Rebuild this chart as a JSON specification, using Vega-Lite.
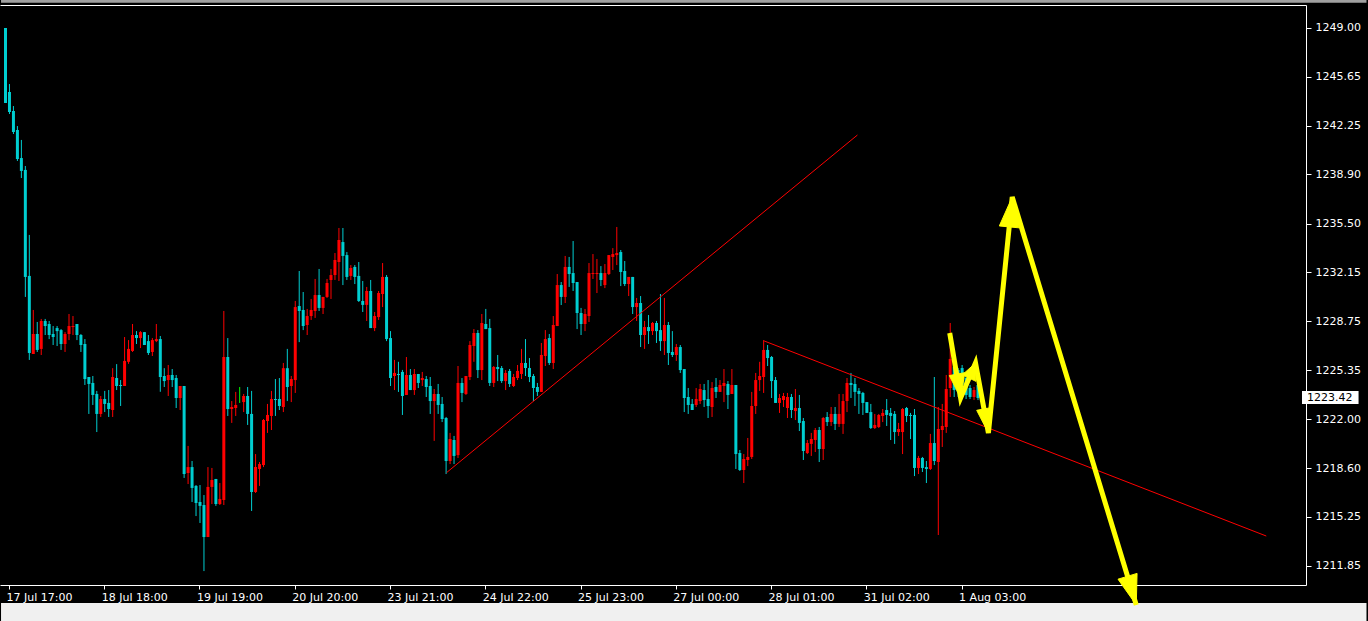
{
  "$schema": "https://vega.github.io/schema/vega-lite/v6.json",
  "width": 1306,
  "height": 580,
  "autosize": {"type": "none"},
  "padding": {"left": 0, "top": 5, "right": 62, "bottom": 36},
  "background": "#000000",
  "config": {
    "view": {"stroke": null},
    "axis": {"labelFont": "DejaVu Sans", "labelFontSize": 11, "labelColor": "#ffffff", "tickColor": "#ffffff", "domainColor": "#ffffff", "grid": false, "title": null}
  },
  "datasets": {
    "candles": [
{"k":-1,"o":1249.00,"h":1249.00,"l":1243.82,"c":1243.82},
{"k":0,"o":1244.58,"h":1245.13,"l":1243.06,"c":1243.20},
{"k":1,"o":1243.27,"h":1243.61,"l":1241.68,"c":1241.82},
{"k":2,"o":1241.96,"h":1242.23,"l":1239.82,"c":1239.95},
{"k":3,"o":1240.02,"h":1241.27,"l":1238.64,"c":1239.13},
{"k":4,"o":1239.20,"h":1239.47,"l":1230.43,"c":1231.81},
{"k":5,"o":1231.88,"h":1234.71,"l":1226.08,"c":1226.56},
{"k":6,"o":1226.49,"h":1229.53,"l":1226.49,"c":1227.87},
{"k":7,"o":1227.87,"h":1228.70,"l":1226.63,"c":1226.77},
{"k":8,"o":1226.84,"h":1228.91,"l":1226.42,"c":1228.77},
{"k":9,"o":1228.77,"h":1228.91,"l":1227.80,"c":1228.42},
{"k":10,"o":1228.56,"h":1228.77,"l":1227.52,"c":1227.80},
{"k":11,"o":1227.87,"h":1228.42,"l":1227.11,"c":1227.66},
{"k":12,"o":1228.28,"h":1228.42,"l":1227.04,"c":1228.07},
{"k":13,"o":1228.14,"h":1228.21,"l":1226.77,"c":1227.18},
{"k":14,"o":1227.18,"h":1228.00,"l":1226.63,"c":1227.87},
{"k":15,"o":1227.87,"h":1229.25,"l":1227.45,"c":1228.42},
{"k":16,"o":1228.35,"h":1229.11,"l":1227.80,"c":1228.42},
{"k":17,"o":1228.56,"h":1228.56,"l":1227.45,"c":1227.80},
{"k":18,"o":1227.80,"h":1227.87,"l":1226.63,"c":1227.11},
{"k":19,"o":1227.18,"h":1227.52,"l":1224.35,"c":1224.76},
{"k":20,"o":1224.90,"h":1224.90,"l":1222.35,"c":1224.42},
{"k":21,"o":1224.49,"h":1224.97,"l":1222.97,"c":1223.66},
{"k":22,"o":1223.73,"h":1223.94,"l":1221.10,"c":1222.35},
{"k":23,"o":1222.35,"h":1223.59,"l":1222.14,"c":1223.38},
{"k":24,"o":1223.38,"h":1223.94,"l":1222.48,"c":1223.04},
{"k":25,"o":1223.11,"h":1224.00,"l":1222.14,"c":1222.69},
{"k":26,"o":1222.62,"h":1225.51,"l":1222.14,"c":1224.90},
{"k":27,"o":1224.83,"h":1225.79,"l":1224.00,"c":1224.28},
{"k":28,"o":1224.35,"h":1224.69,"l":1222.90,"c":1224.28},
{"k":29,"o":1224.28,"h":1227.66,"l":1224.28,"c":1226.01},
{"k":30,"o":1225.95,"h":1227.45,"l":1225.81,"c":1226.84},
{"k":31,"o":1226.70,"h":1228.56,"l":1226.63,"c":1227.80},
{"k":32,"o":1227.80,"h":1228.07,"l":1227.18,"c":1227.59},
{"k":33,"o":1227.59,"h":1228.07,"l":1226.90,"c":1228.00},
{"k":34,"o":1228.00,"h":1228.00,"l":1227.11,"c":1227.11},
{"k":35,"o":1227.38,"h":1227.80,"l":1226.42,"c":1226.56},
{"k":36,"o":1226.63,"h":1227.59,"l":1226.35,"c":1227.45},
{"k":37,"o":1227.38,"h":1228.56,"l":1227.31,"c":1227.52},
{"k":38,"o":1227.52,"h":1227.73,"l":1223.88,"c":1224.90},
{"k":39,"o":1224.97,"h":1225.51,"l":1224.21,"c":1224.62},
{"k":40,"o":1224.69,"h":1225.73,"l":1223.59,"c":1225.04},
{"k":41,"o":1225.04,"h":1225.45,"l":1224.21,"c":1224.69},
{"k":42,"o":1224.83,"h":1225.04,"l":1222.76,"c":1223.45},
{"k":43,"o":1223.45,"h":1224.28,"l":1222.62,"c":1224.28},
{"k":44,"o":1224.28,"h":1224.28,"l":1217.93,"c":1218.20},
{"k":45,"o":1218.27,"h":1220.14,"l":1217.51,"c":1218.68},
{"k":46,"o":1218.68,"h":1219.10,"l":1216.27,"c":1217.24},
{"k":47,"o":1217.38,"h":1217.44,"l":1215.30,"c":1216.20},
{"k":48,"o":1216.27,"h":1217.44,"l":1214.82,"c":1216.00},
{"k":49,"o":1216.06,"h":1216.75,"l":1211.50,"c":1213.85},
{"k":50,"o":1213.85,"h":1218.68,"l":1213.85,"c":1217.31},
{"k":51,"o":1217.31,"h":1218.62,"l":1216.13,"c":1217.79},
{"k":52,"o":1217.86,"h":1217.86,"l":1216.00,"c":1216.13},
{"k":53,"o":1216.13,"h":1217.58,"l":1216.06,"c":1216.48},
{"k":54,"o":1216.41,"h":1229.46,"l":1216.06,"c":1226.28},
{"k":55,"o":1226.28,"h":1227.59,"l":1222.21,"c":1222.69},
{"k":56,"o":1222.69,"h":1223.24,"l":1221.73,"c":1222.83},
{"k":57,"o":1222.76,"h":1223.87,"l":1222.21,"c":1222.97},
{"k":58,"o":1223.21,"h":1224.21,"l":1223.11,"c":1223.21},
{"k":59,"o":1223.17,"h":1223.73,"l":1222.48,"c":1223.59},
{"k":60,"o":1223.59,"h":1224.21,"l":1221.59,"c":1222.35},
{"k":61,"o":1222.35,"h":1223.94,"l":1215.65,"c":1216.96},
{"k":62,"o":1216.96,"h":1219.58,"l":1216.89,"c":1218.68},
{"k":63,"o":1218.55,"h":1219.03,"l":1217.38,"c":1218.89},
{"k":64,"o":1218.82,"h":1222.00,"l":1218.68,"c":1221.93},
{"k":65,"o":1221.86,"h":1223.04,"l":1221.04,"c":1222.28},
{"k":66,"o":1222.21,"h":1223.94,"l":1221.24,"c":1223.38},
{"k":67,"o":1223.38,"h":1224.76,"l":1222.21,"c":1223.31},
{"k":68,"o":1223.38,"h":1224.83,"l":1222.62,"c":1222.90},
{"k":69,"o":1222.83,"h":1225.87,"l":1222.48,"c":1225.51},
{"k":70,"o":1225.51,"h":1226.84,"l":1223.24,"c":1224.21},
{"k":71,"o":1224.28,"h":1224.97,"l":1223.17,"c":1224.76},
{"k":72,"o":1224.69,"h":1230.15,"l":1223.80,"c":1229.73},
{"k":73,"o":1229.80,"h":1232.22,"l":1227.31,"c":1229.46},
{"k":74,"o":1229.53,"h":1230.77,"l":1228.14,"c":1228.42},
{"k":75,"o":1228.49,"h":1229.60,"l":1227.80,"c":1229.11},
{"k":76,"o":1229.11,"h":1230.29,"l":1228.84,"c":1229.53},
{"k":77,"o":1229.46,"h":1231.67,"l":1228.98,"c":1230.56},
{"k":78,"o":1230.56,"h":1232.36,"l":1229.46,"c":1229.67},
{"k":79,"o":1229.67,"h":1230.43,"l":1229.25,"c":1230.43},
{"k":80,"o":1230.43,"h":1231.67,"l":1230.36,"c":1231.39},
{"k":81,"o":1231.60,"h":1232.36,"l":1230.29,"c":1231.94},
{"k":82,"o":1231.94,"h":1233.46,"l":1231.60,"c":1232.98},
{"k":83,"o":1232.84,"h":1235.19,"l":1231.53,"c":1234.36},
{"k":84,"o":1234.22,"h":1235.19,"l":1231.25,"c":1233.26},
{"k":85,"o":1233.32,"h":1233.53,"l":1231.60,"c":1231.81},
{"k":86,"o":1231.88,"h":1232.63,"l":1231.60,"c":1232.43},
{"k":87,"o":1232.50,"h":1232.63,"l":1231.32,"c":1231.81},
{"k":88,"o":1231.88,"h":1232.84,"l":1230.08,"c":1230.15},
{"k":89,"o":1230.15,"h":1231.53,"l":1229.39,"c":1229.88},
{"k":90,"o":1229.88,"h":1231.12,"l":1228.77,"c":1230.84},
{"k":91,"o":1230.84,"h":1231.60,"l":1228.28,"c":1228.28},
{"k":92,"o":1228.28,"h":1229.39,"l":1228.07,"c":1229.11},
{"k":93,"o":1229.04,"h":1230.84,"l":1228.84,"c":1230.70},
{"k":94,"o":1230.63,"h":1232.77,"l":1229.73,"c":1231.81},
{"k":95,"o":1231.81,"h":1231.94,"l":1227.38,"c":1227.52},
{"k":96,"o":1227.59,"h":1228.07,"l":1224.28,"c":1224.83},
{"k":97,"o":1224.97,"h":1226.08,"l":1224.00,"c":1225.18},
{"k":98,"o":1225.11,"h":1225.95,"l":1223.87,"c":1225.04},
{"k":99,"o":1225.25,"h":1225.39,"l":1222.28,"c":1223.59},
{"k":100,"o":1223.66,"h":1226.28,"l":1223.66,"c":1225.04},
{"k":101,"o":1225.04,"h":1225.45,"l":1224.00,"c":1224.00},
{"k":102,"o":1224.00,"h":1225.45,"l":1223.66,"c":1225.11},
{"k":103,"o":1225.11,"h":1225.11,"l":1224.14,"c":1224.49},
{"k":104,"o":1224.69,"h":1225.25,"l":1224.28,"c":1224.83},
{"k":105,"o":1224.76,"h":1224.97,"l":1223.52,"c":1224.21},
{"k":106,"o":1224.28,"h":1224.90,"l":1222.35,"c":1223.24},
{"k":107,"o":1223.24,"h":1224.07,"l":1220.49,"c":1223.73},
{"k":108,"o":1223.73,"h":1224.42,"l":1222.35,"c":1222.97},
{"k":109,"o":1223.04,"h":1223.52,"l":1221.79,"c":1222.00},
{"k":110,"o":1222.07,"h":1222.14,"l":1218.20,"c":1219.10},
{"k":111,"o":1219.10,"h":1221.04,"l":1218.89,"c":1220.62},
{"k":112,"o":1220.55,"h":1220.83,"l":1218.89,"c":1219.45},
{"k":113,"o":1219.51,"h":1225.66,"l":1219.31,"c":1224.49},
{"k":114,"o":1224.49,"h":1224.83,"l":1223.17,"c":1223.80},
{"k":115,"o":1223.73,"h":1224.97,"l":1223.66,"c":1224.97},
{"k":116,"o":1224.90,"h":1227.38,"l":1224.69,"c":1227.11},
{"k":117,"o":1227.04,"h":1228.21,"l":1225.95,"c":1227.94},
{"k":118,"o":1227.94,"h":1228.14,"l":1224.83,"c":1225.38},
{"k":119,"o":1225.38,"h":1229.25,"l":1224.69,"c":1228.63},
{"k":120,"o":1228.56,"h":1229.60,"l":1228.21,"c":1228.21},
{"k":121,"o":1228.28,"h":1228.91,"l":1224.28,"c":1224.49},
{"k":122,"o":1224.49,"h":1225.66,"l":1224.21,"c":1225.59},
{"k":123,"o":1225.59,"h":1226.42,"l":1224.62,"c":1225.45},
{"k":124,"o":1225.52,"h":1225.66,"l":1224.49,"c":1224.62},
{"k":125,"o":1224.62,"h":1225.38,"l":1224.00,"c":1225.18},
{"k":126,"o":1225.32,"h":1225.45,"l":1224.21,"c":1224.42},
{"k":127,"o":1224.28,"h":1225.11,"l":1224.21,"c":1224.90},
{"k":128,"o":1224.83,"h":1225.73,"l":1224.69,"c":1225.32},
{"k":129,"o":1225.11,"h":1226.84,"l":1224.76,"c":1225.87},
{"k":130,"o":1225.87,"h":1227.52,"l":1224.97,"c":1225.52},
{"k":131,"o":1225.52,"h":1226.21,"l":1224.55,"c":1224.90},
{"k":132,"o":1224.97,"h":1225.11,"l":1223.24,"c":1224.14},
{"k":133,"o":1224.21,"h":1224.49,"l":1223.59,"c":1223.87},
{"k":134,"o":1223.87,"h":1227.25,"l":1223.87,"c":1226.42},
{"k":135,"o":1226.35,"h":1228.14,"l":1225.66,"c":1227.52},
{"k":136,"o":1227.59,"h":1227.87,"l":1225.73,"c":1225.87},
{"k":137,"o":1225.87,"h":1229.11,"l":1225.45,"c":1228.49},
{"k":138,"o":1228.42,"h":1232.01,"l":1228.42,"c":1231.25},
{"k":139,"o":1231.25,"h":1231.46,"l":1229.87,"c":1230.43},
{"k":140,"o":1230.43,"h":1233.26,"l":1230.01,"c":1232.50},
{"k":141,"o":1232.50,"h":1233.19,"l":1231.12,"c":1232.01},
{"k":142,"o":1232.08,"h":1234.29,"l":1230.84,"c":1231.39},
{"k":143,"o":1231.46,"h":1231.46,"l":1228.21,"c":1229.32},
{"k":144,"o":1229.32,"h":1229.67,"l":1227.80,"c":1228.56},
{"k":145,"o":1228.56,"h":1229.60,"l":1228.07,"c":1229.25},
{"k":146,"o":1229.11,"h":1232.77,"l":1228.70,"c":1232.08},
{"k":147,"o":1232.01,"h":1233.39,"l":1231.67,"c":1232.08},
{"k":148,"o":1232.01,"h":1233.05,"l":1230.70,"c":1232.08},
{"k":149,"o":1232.08,"h":1232.56,"l":1231.18,"c":1231.60},
{"k":150,"o":1231.25,"h":1232.70,"l":1231.04,"c":1232.08},
{"k":151,"o":1232.01,"h":1233.32,"l":1231.94,"c":1233.32},
{"k":152,"o":1233.19,"h":1233.80,"l":1232.29,"c":1233.39},
{"k":153,"o":1233.32,"h":1235.26,"l":1232.63,"c":1233.46},
{"k":154,"o":1233.53,"h":1233.67,"l":1231.18,"c":1232.15},
{"k":155,"o":1232.22,"h":1232.91,"l":1231.18,"c":1231.32},
{"k":156,"o":1231.32,"h":1231.81,"l":1230.49,"c":1231.81},
{"k":157,"o":1231.81,"h":1231.81,"l":1229.25,"c":1229.73},
{"k":158,"o":1229.73,"h":1230.36,"l":1228.77,"c":1230.01},
{"k":159,"o":1230.01,"h":1230.49,"l":1226.97,"c":1227.80},
{"k":160,"o":1227.80,"h":1228.77,"l":1226.84,"c":1228.35},
{"k":161,"o":1228.35,"h":1229.18,"l":1227.18,"c":1228.07},
{"k":162,"o":1228.07,"h":1228.70,"l":1227.80,"c":1228.63},
{"k":163,"o":1228.63,"h":1228.77,"l":1227.25,"c":1228.07},
{"k":164,"o":1228.14,"h":1230.63,"l":1226.70,"c":1227.38},
{"k":165,"o":1227.38,"h":1230.36,"l":1226.42,"c":1228.49},
{"k":166,"o":1228.49,"h":1228.70,"l":1225.73,"c":1226.56},
{"k":167,"o":1226.63,"h":1228.07,"l":1226.28,"c":1226.42},
{"k":168,"o":1226.42,"h":1227.18,"l":1226.01,"c":1226.97},
{"k":169,"o":1226.97,"h":1227.11,"l":1225.18,"c":1225.38},
{"k":170,"o":1225.45,"h":1225.45,"l":1222.48,"c":1223.45},
{"k":171,"o":1223.52,"h":1224.14,"l":1222.35,"c":1222.97},
{"k":172,"o":1223.04,"h":1223.38,"l":1222.62,"c":1222.62},
{"k":173,"o":1222.97,"h":1224.14,"l":1222.83,"c":1223.38},
{"k":174,"o":1223.24,"h":1224.42,"l":1223.04,"c":1224.07},
{"k":175,"o":1224.00,"h":1224.42,"l":1222.83,"c":1223.31},
{"k":176,"o":1223.38,"h":1224.69,"l":1222.07,"c":1222.90},
{"k":177,"o":1222.83,"h":1224.55,"l":1222.14,"c":1224.14},
{"k":178,"o":1224.21,"h":1224.83,"l":1223.45,"c":1223.87},
{"k":179,"o":1223.87,"h":1224.69,"l":1223.87,"c":1224.35},
{"k":180,"o":1224.28,"h":1225.45,"l":1223.17,"c":1224.49},
{"k":181,"o":1224.42,"h":1224.62,"l":1222.69,"c":1223.66},
{"k":182,"o":1223.73,"h":1225.45,"l":1223.73,"c":1224.35},
{"k":183,"o":1224.35,"h":1224.35,"l":1218.55,"c":1219.58},
{"k":184,"o":1219.65,"h":1219.86,"l":1218.41,"c":1218.48},
{"k":185,"o":1218.48,"h":1219.58,"l":1217.58,"c":1219.24},
{"k":186,"o":1219.17,"h":1220.69,"l":1218.75,"c":1219.38},
{"k":187,"o":1219.38,"h":1223.87,"l":1219.24,"c":1222.90},
{"k":188,"o":1222.90,"h":1225.18,"l":1222.35,"c":1224.69},
{"k":189,"o":1224.69,"h":1225.95,"l":1223.94,"c":1224.97},
{"k":190,"o":1224.90,"h":1227.45,"l":1223.80,"c":1226.77},
{"k":191,"o":1226.77,"h":1227.11,"l":1225.66,"c":1226.21},
{"k":192,"o":1226.28,"h":1226.35,"l":1223.45,"c":1224.62},
{"k":193,"o":1224.69,"h":1224.90,"l":1223.11,"c":1223.11},
{"k":194,"o":1223.11,"h":1223.73,"l":1222.42,"c":1223.45},
{"k":195,"o":1223.31,"h":1223.80,"l":1222.83,"c":1223.59},
{"k":196,"o":1222.76,"h":1223.80,"l":1222.07,"c":1223.52},
{"k":197,"o":1223.52,"h":1223.73,"l":1222.07,"c":1222.62},
{"k":198,"o":1222.55,"h":1224.07,"l":1221.93,"c":1222.76},
{"k":199,"o":1222.76,"h":1223.66,"l":1221.17,"c":1221.73},
{"k":200,"o":1221.86,"h":1222.07,"l":1219.17,"c":1219.79},
{"k":201,"o":1219.65,"h":1220.55,"l":1219.58,"c":1220.34},
{"k":202,"o":1220.28,"h":1221.04,"l":1219.45,"c":1220.62},
{"k":203,"o":1220.55,"h":1221.38,"l":1219.72,"c":1221.24},
{"k":204,"o":1221.24,"h":1221.45,"l":1219.03,"c":1219.93},
{"k":205,"o":1219.93,"h":1222.14,"l":1219.17,"c":1222.07},
{"k":206,"o":1222.14,"h":1222.48,"l":1221.52,"c":1221.79},
{"k":207,"o":1221.79,"h":1222.83,"l":1221.52,"c":1222.35},
{"k":208,"o":1222.35,"h":1222.83,"l":1221.24,"c":1221.66},
{"k":209,"o":1221.66,"h":1223.73,"l":1221.45,"c":1222.35},
{"k":210,"o":1221.66,"h":1223.73,"l":1220.97,"c":1223.24},
{"k":211,"o":1223.24,"h":1224.83,"l":1222.48,"c":1224.49},
{"k":212,"o":1224.49,"h":1225.18,"l":1223.45,"c":1224.35},
{"k":213,"o":1224.42,"h":1224.83,"l":1222.90,"c":1223.87},
{"k":214,"o":1223.94,"h":1224.14,"l":1222.35,"c":1223.73},
{"k":215,"o":1223.80,"h":1223.87,"l":1222.28,"c":1223.11},
{"k":216,"o":1223.17,"h":1223.17,"l":1222.42,"c":1222.42},
{"k":217,"o":1222.48,"h":1223.04,"l":1221.31,"c":1221.38},
{"k":218,"o":1221.38,"h":1222.35,"l":1221.31,"c":1221.59},
{"k":219,"o":1221.45,"h":1222.35,"l":1221.38,"c":1222.28},
{"k":220,"o":1222.21,"h":1222.69,"l":1221.79,"c":1222.42},
{"k":221,"o":1222.62,"h":1223.38,"l":1221.52,"c":1222.28},
{"k":222,"o":1222.42,"h":1222.76,"l":1220.55,"c":1222.21},
{"k":223,"o":1222.35,"h":1222.55,"l":1220.28,"c":1221.10},
{"k":224,"o":1221.10,"h":1221.73,"l":1220.83,"c":1221.31},
{"k":225,"o":1221.10,"h":1222.76,"l":1219.58,"c":1222.69},
{"k":226,"o":1222.76,"h":1222.83,"l":1221.79,"c":1222.21},
{"k":227,"o":1222.28,"h":1222.42,"l":1220.62,"c":1222.21},
{"k":228,"o":1222.28,"h":1222.69,"l":1218.06,"c":1218.62},
{"k":229,"o":1218.62,"h":1219.45,"l":1218.20,"c":1219.31},
{"k":230,"o":1219.31,"h":1219.38,"l":1218.34,"c":1218.62},
{"k":231,"o":1218.68,"h":1219.10,"l":1217.58,"c":1218.55},
{"k":232,"o":1218.55,"h":1220.97,"l":1218.48,"c":1220.34},
{"k":233,"o":1220.34,"h":1224.90,"l":1218.82,"c":1219.10},
{"k":234,"o":1219.03,"h":1222.83,"l":1213.99,"c":1221.31},
{"k":235,"o":1221.24,"h":1223.04,"l":1220.07,"c":1221.52},
{"k":236,"o":1221.45,"h":1225.04,"l":1221.04,"c":1224.07},
{"k":237,"o":1224.14,"h":1228.63,"l":1223.52,"c":1226.15},
{"k":238,"o":1225.59,"h":1225.87,"l":1223.52,"c":1224.00},
{"k":239,"o":1225.38,"h":1225.52,"l":1223.52,"c":1223.87},
{"k":240,"o":1225.52,"h":1225.73,"l":1223.52,"c":1224.35},
{"k":241,"o":1224.83,"h":1225.04,"l":1223.38,"c":1223.66},
{"k":242,"o":1224.14,"h":1224.35,"l":1223.38,"c":1223.52},
{"k":243,"o":1223.52,"h":1224.21,"l":1223.31,"c":1224.00},
{"k":244,"o":1224.35,"h":1224.69,"l":1223.31,"c":1223.45}
    ],
    "trend": [
      {"id": "t1", "k": 110.25, "p": 1218.30},
      {"id": "t1", "k": 213.75, "p": 1241.61},
      {"id": "t2", "k": 190.25, "p": 1227.39},
      {"id": "t2", "k": 316.75, "p": 1213.92}
    ],
    "shaft": [
      {"ord": 1, "k": 237.0, "p": 1227.94},
      {"ord": 2, "k": 239.75, "p": 1223.45},
      {"ord": 3, "k": 243.5, "p": 1225.87},
      {"ord": 4, "k": 246.75, "p": 1221.03},
      {"ord": 5, "k": 252.75, "p": 1237.33},
      {"ord": 6, "k": 284.0, "p": 1209.16}
    ],
    "heads": [
      {"id": 1, "ord": 1, "k": 239.75, "p": 1223.45},
      {"id": 1, "ord": 2, "k": 236.9, "p": 1225.00},
      {"id": 1, "ord": 3, "k": 240.8, "p": 1225.20},
      {"id": 1, "ord": 4, "k": 239.75, "p": 1223.45},
      {"id": 2, "ord": 1, "k": 243.5, "p": 1225.87},
      {"id": 2, "ord": 2, "k": 243.6, "p": 1224.60},
      {"id": 2, "ord": 3, "k": 240.2, "p": 1225.05},
      {"id": 2, "ord": 4, "k": 243.5, "p": 1225.87},
      {"id": 3, "ord": 1, "k": 246.75, "p": 1221.03},
      {"id": 3, "ord": 2, "k": 243.8, "p": 1222.60},
      {"id": 3, "ord": 3, "k": 247.7, "p": 1222.80},
      {"id": 3, "ord": 4, "k": 246.75, "p": 1221.03},
      {"id": 4, "ord": 1, "k": 252.75, "p": 1237.33},
      {"id": 4, "ord": 2, "k": 254.5, "p": 1235.20},
      {"id": 4, "ord": 3, "k": 249.5, "p": 1235.33},
      {"id": 4, "ord": 4, "k": 252.75, "p": 1237.33},
      {"id": 5, "ord": 1, "k": 284.0, "p": 1209.16},
      {"id": 5, "ord": 2, "k": 279.4, "p": 1210.94},
      {"id": 5, "ord": 3, "k": 284.2, "p": 1211.34},
      {"id": 5, "ord": 4, "k": 284.0, "p": 1209.16}
    ],
    "last": [{"price": 1223.42}],
    "frame": [{"from": 1250.93, "to": 1250.75, "part": "top"}, {"from": 1209.30, "to": 1207.90, "part": "bottom"}]
  },
  "resolve": {"axis": {"x": "independent"}},
  "layer": [
    {
      "data": {"name": "candles"},
      "mark": {"type": "rule", "strokeWidth": 1, "xOffset": 0.5},
      "encoding": {
        "x": {"field": "k", "type": "quantitative", "scale": {"domain": [-1, 325.5], "nice": false, "zero": false},
          "axis": {"orient": "bottom", "values": [0, 24, 48, 72, 96, 120, 144, 168, 192, 216, 240],
            "labelExpr": "['17 Jul 17:00','18 Jul 18:00','19 Jul 19:00','20 Jul 20:00','23 Jul 21:00','24 Jul 22:00','25 Jul 23:00','27 Jul 00:00','28 Jul 01:00','31 Jul 02:00','1 Aug 03:00'][round(datum.value/24)]",
            "labelAlign": "left", "labelBaseline": "top", "labelPadding": 2, "labelOffset": -3, "tickSize": 4, "labelFlush": false, "labelOverlap": false}},
        "y": {"field": "l", "type": "quantitative", "scale": {"domain": [1210.538, 1250.588], "nice": false, "zero": false},
          "axis": {"orient": "right", "values": [1249.00, 1245.65, 1242.25, 1238.90, 1235.50, 1232.15, 1228.75, 1225.35, 1222.00, 1218.60, 1215.25, 1211.85],
            "format": ".2f", "tickSize": 5, "labelPadding": 4, "labelFlush": false, "labelOverlap": false}},
        "y2": {"field": "h"},
        "color": {"condition": [{"test": "datum.c > datum.o", "value": "#ff0000"}, {"test": "datum.c < datum.o", "value": "#00ced1"}], "value": "#00ff00"}
      }
    },
    {
      "data": {"name": "candles"},
      "mark": {"type": "bar", "size": 3, "xOffset": 0.5, "minBandSize": 1},
      "encoding": {
        "x": {"field": "k", "type": "quantitative", "axis": null},
        "y": {"field": "o", "type": "quantitative"},
        "y2": {"field": "c"},
        "color": {"condition": [{"test": "datum.c > datum.o", "value": "#ff0000"}, {"test": "datum.c < datum.o", "value": "#00ced1"}], "value": "#00ff00"}
      }
    },
    {
      "data": {"name": "trend"},
      "mark": {"type": "line", "color": "#ff0000", "strokeWidth": 1},
      "encoding": {
        "x": {"field": "k", "type": "quantitative", "axis": {"orient": "top", "labels": false, "ticks": false, "domain": true, "values": [-1]}},
        "y": {"field": "p", "type": "quantitative"},
        "detail": {"field": "id"}
      }
    },
    {
      "data": {"name": "frame"},
      "mark": {"type": "rect", "clip": false},
      "encoding": {
        "x": {"datum": -2, "axis": null},
        "x2": {"datum": 342},
        "y": {"field": "from", "type": "quantitative"},
        "y2": {"field": "to"},
        "color": {"field": "part", "type": "nominal", "scale": {"domain": ["top", "bottom"], "range": ["#a0a0a0", "#f0f0f0"]}, "legend": null}
      }
    },
    {
      "data": {"name": "shaft"},
      "mark": {"type": "line", "color": "#ffff00", "strokeWidth": 5, "strokeJoin": "miter", "clip": false},
      "encoding": {
        "x": {"field": "k", "type": "quantitative", "axis": null},
        "y": {"field": "p", "type": "quantitative"},
        "order": {"field": "ord"}
      }
    },
    {
      "data": {"name": "heads"},
      "mark": {"type": "line", "stroke": "#ffff00", "fill": "#ffff00", "strokeWidth": 1, "clip": false},
      "encoding": {
        "x": {"field": "k", "type": "quantitative", "axis": null},
        "y": {"field": "p", "type": "quantitative"},
        "detail": {"field": "id"},
        "order": {"field": "ord"}
      }
    },
    {
      "data": {"name": "last"},
      "mark": {"type": "rect", "color": "#ffffff", "clip": false},
      "encoding": {
        "x": {"datum": 325.75, "axis": null},
        "x2": {"datum": 340.0},
        "y": {"datum": 1223.93},
        "y2": {"datum": 1223.04}
      }
    },
    {
      "data": {"name": "last"},
      "mark": {"type": "text", "color": "#000000", "font": "DejaVu Sans", "fontSize": 11, "align": "left", "baseline": "middle", "clip": false},
      "encoding": {
        "x": {"datum": 327.0, "axis": null},
        "y": {"field": "price", "type": "quantitative"},
        "text": {"field": "price", "type": "quantitative", "format": ".2f"}
      }
    }
  ]
}
